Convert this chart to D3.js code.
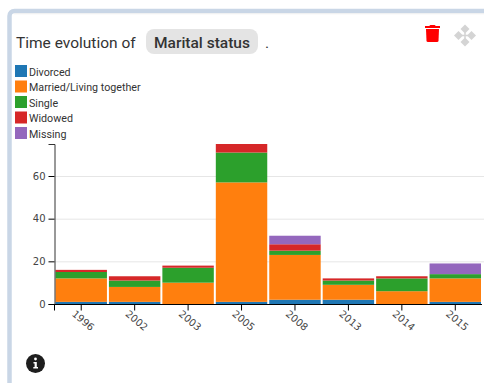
<!DOCTYPE html>
<html>
<head>
<meta charset="utf-8">
<script src="https://cdnjs.cloudflare.com/ajax/libs/d3/7.8.5/d3.min.js"></script>
<style>
  html, body { margin: 0; padding: 0; background: #fff; overflow: hidden; }
  #chart { display: block; }
  .axis text { font-family: "DejaVu Sans", sans-serif; font-size: 10px; fill: #444; }
</style>
</head>
<body>
<svg id="chart" width="484" height="383"></svg>
<script>
var years = ['1996', '2002', '2003', '2005', '2008', '2013', '2014', '2015'];
var statuses = ['Divorced', 'Married/Living together', 'Single', 'Widowed', 'Missing'];
var colors = ['#1f77b4', '#ff7f0e', '#2ca02c', '#d62728', '#9467bd'];
var divorced = [1, 1, 0, 1, 2, 2, 0, 1];
var married = [11, 7, 10, 56, 21, 7, 6, 11];
var single = [3, 3, 7, 14, 2, 2, 6, 2];
var widowed = [1, 2, 1, 4, 3, 1, 1, 0];
var missing = [0, 0, 0, 0, 4, 0, 0, 5];
var yTicks = [0, 20, 40, 60];

var svg = d3.select('#chart');

// card background and its border
svg.append('rect').attr('x', 9.5).attr('y', 11).attr('width', 490).attr('height', 400)
  .attr('rx', 5).attr('fill', '#fff').attr('stroke', '#c9d6e6').attr('stroke-width', 4.5);
svg.append('line').attr('x1', 14).attr('x2', 484).attr('y1', 13.8).attr('y2', 13.8)
  .attr('stroke', '#f0f0f0');

// heading
svg.append('text').attr('x', 16).attr('y', 47.5)
  .attr('font-family', 'Roboto').attr('font-size', 15.5).attr('fill', '#333')
  .text('Time evolution of');
svg.append('rect').attr('x', 146).attr('y', 29).attr('width', 112).attr('height', 25)
  .attr('rx', 8).attr('fill', '#e4e4e4');
svg.append('text').attr('x', 154).attr('y', 47.5)
  .attr('font-family', 'Roboto').attr('font-weight', 500).attr('font-size', 15.5).attr('fill', '#333')
  .text('Marital status');
svg.append('text').attr('x', 265).attr('y', 47.5)
  .attr('font-family', 'Roboto').attr('font-size', 15.5).attr('fill', '#333')
  .text('.');

// trash icon
var trash = svg.append('g').attr('fill', '#ff0000');
trash.append('rect').attr('x', 425).attr('y', 26).attr('width', 15).attr('height', 2);
trash.append('rect').attr('x', 429.5).attr('y', 25).attr('width', 6).attr('height', 2).attr('rx', 1);
trash.append('path').attr('d', 'M426 29H439L438.5 41Q438.4 42 437 42H428Q426.6 42 426.5 41Z');

// move icon
var move = svg.append('g').attr('transform', 'translate(465,35.5)').attr('fill', '#d4d4d4');
[[0, -6.5], [0, 6.5], [-6.5, 0], [6.5, 0]].forEach(function(p) {
  move.append('path')
    .attr('transform', 'translate(' + p[0] + ',' + p[1] + ')')
    .attr('d', 'M0 -4.5L4.5 0L0 4.5L-4.5 0Z');
});
move.append('path').attr('d', 'M-3 0H3M0 -3V3').attr('stroke', '#d4d4d4').attr('stroke-width', 1.5);

// info icon
svg.append('circle').attr('cx', 35.5).attr('cy', 363.5).attr('r', 9.5).attr('fill', '#1e1e1e');
svg.append('circle').attr('cx', 35.5).attr('cy', 359).attr('r', 1.4).attr('fill', '#fff');
svg.append('path').attr('d', 'M33.5 362H36.8V367H38V368.5H33.3V367H34.6V363.4H33.5Z').attr('fill', '#fff');

// legend
var legend = svg.append('g').selectAll('g').data(statuses).enter().append('g')
  .attr('transform', function(d, i) { return 'translate(15,' + (65 + i * 15.5) + ')'; });
legend.append('rect').attr('width', 12).attr('height', 12)
  .attr('fill', function(d, i) { return colors[i]; });
legend.append('text').attr('x', 14).attr('y', 10.5)
  .attr('font-family', 'Roboto').attr('font-size', 10.7).attr('fill', '#333')
  .text(function(d) { return d; });

// scales
var x = d3.scaleBand().domain(years).range([54.5, 482]);
var y = d3.scaleLinear().domain([0, 75]).range([304, 144]);

// grid lines
svg.append('g').selectAll('line').data(yTicks.slice(1)).enter().append('line')
  .attr('x1', 55).attr('x2', 484)
  .attr('y1', function(d) { return y(d) + 0.5; })
  .attr('y2', function(d) { return y(d) + 0.5; })
  .attr('stroke', '#e6e6e6');

// stacked bars
var rows = years.map(function(year, i) {
  return { year: year, Divorced: divorced[i], 'Married/Living together': married[i],
    Single: single[i], Widowed: widowed[i], Missing: missing[i] };
});
var stacked = d3.stack().keys(statuses)(rows);

svg.append('g').selectAll('g').data(stacked).enter().append('g')
  .attr('fill', function(d, i) { return colors[i]; })
  .selectAll('rect').data(function(d) { return d; }).enter().append('rect')
  .attr('x', function(d) { return x(d.data.year) + 1; })
  .attr('width', x.bandwidth() - 2)
  .attr('y', function(d) { return y(d[1]); })
  .attr('height', function(d) { return y(d[0]) - y(d[1]); });

// axes
var yAxis = svg.append('g').attr('class', 'axis')
  .attr('transform', 'translate(54.5,0)')
  .call(d3.axisLeft(y).tickValues(yTicks));
yAxis.select('.domain').attr('stroke', '#333');

var xAxis = svg.append('g').attr('class', 'axis')
  .attr('transform', 'translate(0,304.5)')
  .call(d3.axisBottom(x).tickSize(6));
// outer tick only on the left end of the baseline
xAxis.select('.domain').attr('d', 'M' + x.range()[0] + ',6V0H' + x.range()[1]);
xAxis.selectAll('text')
  .attr('text-anchor', 'middle')
  .attr('y', 0)
  .attr('dy', '.35em')
  .attr('transform', 'translate(2,16) rotate(40)');
</script>
</body>
</html>
